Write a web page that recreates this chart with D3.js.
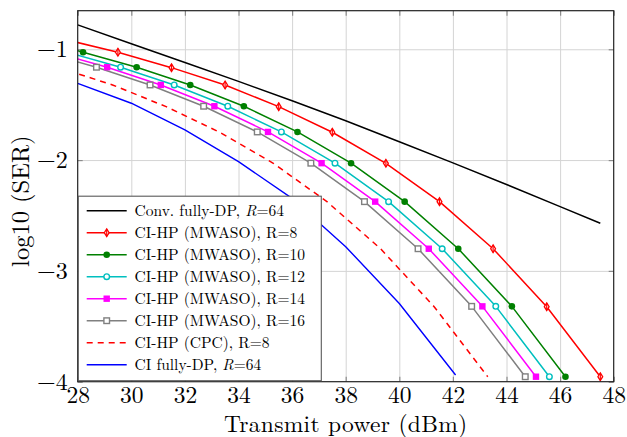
<!DOCTYPE html>
<html>
<head>
<meta charset="utf-8">
<script src="https://cdn.jsdelivr.net/npm/d3@7"></script>
<style>
  html, body { margin: 0; padding: 0; background: #fff; }
  svg { display: block; }
</style>
</head>
<body>
<svg id="chart" width="627" height="437"></svg>
<script>
// ---------- data ----------
const xTicks = [28, 30, 32, 34, 36, 38, 40, 42, 44, 46, 48];
const yTicks = [-1, -2, -3, -4];

const convX = [28, 30, 32, 34, 36, 38, 40, 42, 44, 46, 47.5];
const convY = [-0.78, -0.95, -1.12, -1.29, -1.465, -1.645, -1.835, -2.025, -2.22, -2.42, -2.57];

const r8X = [27.5, 29.5, 31.5, 33.5, 35.5, 37.5, 39.5, 41.5, 43.5, 45.5, 47.5];
const r8Y = [-0.91, -1.027, -1.166, -1.322, -1.518, -1.749, -2.029, -2.375, -2.800, -3.323, -3.955];

const r10X = [26.2, 28.2, 30.2, 32.2, 34.2, 36.2, 38.2, 40.2, 42.2, 44.2, 46.2];
const r10Y = [-0.892, -1.027, -1.162, -1.322, -1.514, -1.746, -2.028, -2.375, -2.800, -3.320, -3.955];

const r12X = [27.6, 29.6, 31.6, 33.6, 35.6, 37.6, 39.6, 41.6, 43.6, 45.6];
const r12Y = [-1.027, -1.162, -1.322, -1.514, -1.746, -2.028, -2.375, -2.800, -3.320, -3.955];

const r14X = [27.1, 29.1, 31.1, 33.1, 35.1, 37.1, 39.1, 41.1, 43.1, 45.1];
const r14Y = [-1.027, -1.162, -1.322, -1.514, -1.746, -2.028, -2.375, -2.800, -3.320, -3.955];

const r16X = [26.7, 28.7, 30.7, 32.7, 34.7, 36.7, 38.7, 40.7, 42.7, 44.7];
const r16Y = [-1.027, -1.162, -1.322, -1.514, -1.746, -2.028, -2.375, -2.800, -3.320, -3.955];

const cpcX = [25.3, 27.3, 29.3, 31.3, 33.3, 35.3, 37.3, 39.3, 41.3, 43.3];
const cpcY = [-1.027, -1.166, -1.322, -1.518, -1.749, -2.029, -2.375, -2.800, -3.323, -3.955];

const ciDpX = [28, 30, 32, 34, 36, 38, 40, 42.1];
const ciDpY = [-1.307, -1.487, -1.728, -2.014, -2.346, -2.782, -3.294, -3.94];

const seriesNames = [
  "Conv. fully-DP, R=64",
  "CI-HP (MWASO), R=8",
  "CI-HP (MWASO), R=10",
  "CI-HP (MWASO), R=12",
  "CI-HP (MWASO), R=14",
  "CI-HP (MWASO), R=16",
  "CI-HP (CPC), R=8",
  "CI fully-DP, R=64"
];

// ---------- layout ----------
const FONT = "'Latin Modern Roman', 'CMU Serif', 'Liberation Serif', serif";
const L = 77.7, R = 613.7, T = 10.7, B = 381.7;
const svg = d3.select("#chart");
const x = d3.scaleLinear().domain([28, 48]).range([L, R]);
const y = d3.scaleLinear().domain([-4, -0.652]).range([B, T]);

const series = [
  { name: seriesNames[0], xs: convX, ys: convY, color: "#000000", width: 1.5, dash: null, mark: null, italicR: true },
  { name: seriesNames[1], xs: r8X, ys: r8Y, color: "#ff0000", width: 1.5, dash: null, mark: "diamond" },
  { name: seriesNames[2], xs: r10X, ys: r10Y, color: "#008000", width: 1.5, dash: null, mark: "dot" },
  { name: seriesNames[3], xs: r12X, ys: r12Y, color: "#00bfbf", width: 1.5, dash: null, mark: "circle" },
  { name: seriesNames[4], xs: r14X, ys: r14Y, color: "#ff00ff", width: 1.5, dash: null, mark: "squareF" },
  { name: seriesNames[5], xs: r16X, ys: r16Y, color: "#808080", width: 1.5, dash: null, mark: "square" },
  { name: seriesNames[6], xs: cpcX, ys: cpcY, color: "#ff0000", width: 1.5, dash: "6,5", mark: null },
  { name: seriesNames[7], xs: ciDpX, ys: ciDpY, color: "#0000ff", width: 1.4, dash: null, mark: null, italicR: true }
];

// clip
svg.append("defs").append("clipPath").attr("id", "clip")
  .append("rect").attr("x", L).attr("y", T).attr("width", R - L).attr("height", B - T);

// grid
svg.append("g").attr("transform", `translate(0,${B})`)
  .call(d3.axisBottom(x).tickValues(xTicks.slice(1, -1)).tickSize(-(B - T)).tickFormat(""))
  .call(g => g.select(".domain").remove())
  .call(g => g.selectAll("line").attr("stroke", "#d4d4d4").attr("stroke-width", 1));
svg.append("g").attr("transform", `translate(${L},0)`)
  .call(d3.axisLeft(y).tickValues(yTicks.slice(0, -1)).tickSize(-(R - L)).tickFormat(""))
  .call(g => g.select(".domain").remove())
  .call(g => g.selectAll("line").attr("stroke", "#d4d4d4").attr("stroke-width", 1));

// inner tick marks
const tk = 5;
function tickStyle(g) {
  g.select(".domain").remove();
  g.selectAll("line").attr("stroke", "#8c8c8c").attr("stroke-width", 1.2);
}
svg.append("g").attr("transform", `translate(0,${B})`)
  .call(d3.axisTop(x).tickValues(xTicks).tickSize(tk).tickFormat("")).call(tickStyle);
svg.append("g").attr("transform", `translate(0,${T})`)
  .call(d3.axisBottom(x).tickValues(xTicks).tickSize(tk).tickFormat("")).call(tickStyle);
svg.append("g").attr("transform", `translate(${L},0)`)
  .call(d3.axisRight(y).tickValues(yTicks).tickSize(tk).tickFormat("")).call(tickStyle);
svg.append("g").attr("transform", `translate(${R},0)`)
  .call(d3.axisLeft(y).tickValues(yTicks).tickSize(tk).tickFormat("")).call(tickStyle);

// tick labels
svg.append("g").attr("transform", `translate(0,${B})`)
  .call(d3.axisBottom(x).tickValues(xTicks).tickSize(0).tickPadding(4.5).tickFormat(d3.format("d")))
  .call(g => g.select(".domain").remove())
  .call(g => g.selectAll("text").style("font-family", FONT).style("font-size", "23.5px").attr("fill", "#000").attr("dy", "0.71em"));
svg.append("g").attr("transform", `translate(${L},0)`)
  .call(d3.axisLeft(y).tickValues(yTicks).tickSize(0).tickPadding(10).tickFormat(d => "\u2212" + Math.abs(d)))
  .call(g => g.select(".domain").remove())
  .call(g => g.selectAll("text").style("font-family", FONT).style("font-size", "24px").attr("fill", "#000"));

// axis titles
svg.append("text").attr("x", (L + R) / 2).attr("y", 431.5).attr("text-anchor", "middle")
  .style("font-family", FONT).style("font-size", "23.5px").style("letter-spacing", "0.3px").text("Transmit power (dBm)");
svg.append("text").attr("transform", `translate(29,${(T + B) / 2 + 5}) rotate(-90)`).attr("text-anchor", "middle")
  .style("font-family", FONT).style("font-size", "24.5px").text("log10 (SER)");

// lines
const plot = svg.append("g").attr("clip-path", "url(#clip)");
series.forEach(s => {
  const pts = s.xs.map((v, i) => [v, s.ys[i]]);
  plot.append("path").datum(pts)
    .attr("d", d3.line().x(d => x(d[0])).y(d => y(d[1])))
    .attr("fill", "none").attr("stroke", s.color).attr("stroke-width", s.width)
    .attr("stroke-dasharray", s.dash).attr("stroke-linejoin", "round");
});

// markers
function drawMark(g, type, cx, cy, color) {
  if (type === "diamond") {
    g.append("path").attr("d", `M${cx},${cy - 3.8}L${cx + 2.4},${cy}L${cx},${cy + 3.8}L${cx - 2.4},${cy}Z`)
      .attr("fill", "#fff").attr("stroke", color).attr("stroke-width", 1.3);
    g.append("line").attr("x1", cx).attr("x2", cx).attr("y1", cy - 3.8).attr("y2", cy + 3.8)
      .attr("stroke", color).attr("stroke-width", 1.2);
  } else if (type === "dot") {
    g.append("circle").attr("cx", cx).attr("cy", cy).attr("r", 3.3).attr("fill", color);
  } else if (type === "circle") {
    g.append("circle").attr("cx", cx).attr("cy", cy).attr("r", 2.8)
      .attr("fill", "#fff").attr("stroke", color).attr("stroke-width", 1.4);
  } else if (type === "squareF") {
    g.append("rect").attr("x", cx - 3.2).attr("y", cy - 3.2).attr("width", 6.4).attr("height", 6.4).attr("fill", color);
  } else if (type === "square") {
    g.append("rect").attr("x", cx - 2.8).attr("y", cy - 2.8).attr("width", 5.6).attr("height", 5.6)
      .attr("fill", "#fff").attr("stroke", color).attr("stroke-width", 1.4);
  }
}
const marks = svg.append("g");
series.forEach(s => {
  if (!s.mark) return;
  s.xs.forEach((v, i) => {
    if (v < 28 || v > 48) return;
    drawMark(marks, s.mark, x(v), y(s.ys[i]), s.color);
  });
});

// frame
svg.append("rect").attr("x", L).attr("y", T).attr("width", R - L).attr("height", B - T)
  .attr("fill", "none").attr("stroke", "#222").attr("stroke-width", 1.2);

// legend
const lg = svg.append("g");
const lx = 78.3, ly = 196.2, lw = 243, lh = 184.5;
lg.append("rect").attr("x", lx).attr("y", ly).attr("width", lw).attr("height", lh)
  .attr("fill", "#fff").attr("stroke", "#5a5a5a").attr("stroke-width", 1.1);
series.forEach((s, i) => {
  const cy = 210.7 + i * 22.0;
  lg.append("line").attr("x1", 86.7).attr("x2", 126.7).attr("y1", cy).attr("y2", cy)
    .attr("stroke", s.color).attr("stroke-width", s.width).attr("stroke-dasharray", s.dash);
  if (s.mark) drawMark(lg, s.mark, 106.7, cy, s.color);
  const t = lg.append("text").attr("x", 134.5).attr("y", cy + 5)
    .style("font-family", FONT).style("font-size", "15.5px");
  if (s.italicR) {
    const parts = s.name.split("R=");
    t.append("tspan").text(parts[0]);
    t.append("tspan").style("font-style", "italic").text("R");
    t.append("tspan").text("=" + parts[1]);
  } else {
    t.text(s.name);
  }
});
</script>
</body>
</html>
